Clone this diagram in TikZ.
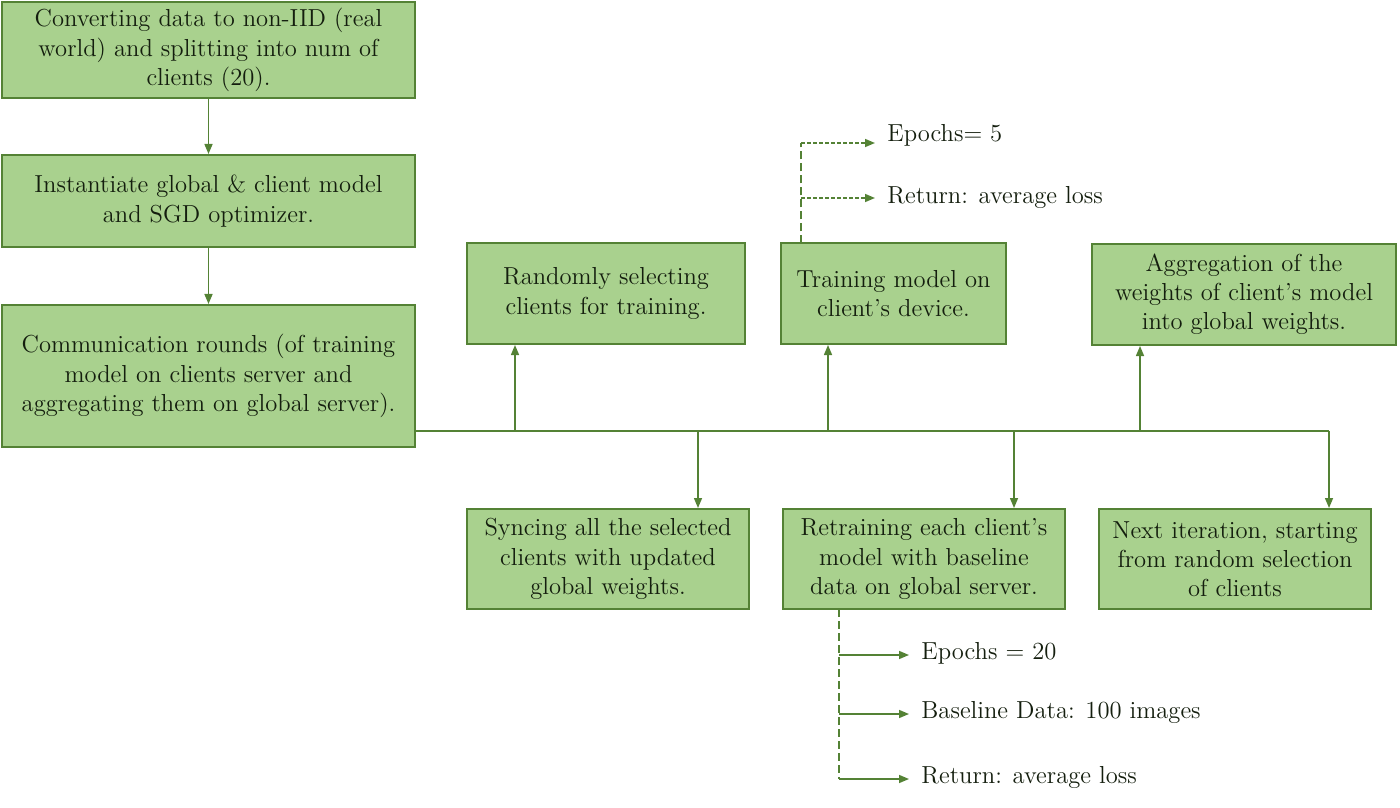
\documentclass[tikz,border=0pt]{standalone}
\usetikzlibrary{arrows.meta}
\definecolor{boxfill}{HTML}{A9D18E}
\definecolor{boxline}{HTML}{548235}
\definecolor{txt}{HTML}{141E0E}
\begin{document}
\begin{tikzpicture}[x=0.5pt,y=-0.5pt,
  box/.style={draw=boxline,fill=boxfill,line width=1pt,align=center,inner sep=0pt,
    text=txt,font=\fontsize{12.3}{14.6}\selectfont},
  arr/.style={draw=boxline,line width=0.75pt,-{Triangle[length=5pt,width=4pt]}},
  ln/.style={draw=boxline,line width=0.75pt},
  dsh/.style={draw=boxline,line width=0.75pt,dash pattern=on 4pt off 2pt},
  lbl/.style={anchor=west,inner sep=0pt,text=txt,font=\fontsize{12.3}{14.6}\selectfont}]
\useasboundingbox (0,0) rectangle (1400,807);
% boxes
\node[box,minimum width=206.5pt,minimum height=48pt] (A) at (208.5,50)
  {Converting data to non-IID (real\\world) and splitting into num of\\clients (20).};
\node[box,minimum width=206.5pt,minimum height=46pt] (B) at (208.5,201)
  {Instantiate global \& client model\\and SGD optimizer.};
\node[box,minimum width=206.5pt,minimum height=71pt] (C) at (208.5,376)
  {Communication rounds (of training\\model on clients server and\\aggregating them on global server).};
\node[box,minimum width=139pt,minimum height=50.5pt] (D) at (606,293.5)
  {Randomly selecting\\clients for training.};
\node[box,minimum width=112.5pt,minimum height=50.5pt] (E) at (893.5,293.5)
  {Training model on\\client's device.};
\node[box,minimum width=152pt,minimum height=50.5pt] (F) at (1244,294.5)
  {Aggregation of the\\weights of client's model\\into global weights.};
\node[box,minimum width=141pt,minimum height=50pt] (G) at (608,559)
  {Syncing all the selected\\clients with updated\\global weights.};
\node[box,minimum width=141pt,minimum height=50pt] (H) at (924,559)
  {Retraining each client's\\model with baseline\\data on global server.};
\node[box,minimum width=136pt,minimum height=50pt] (I) at (1235,559)
  {Next iteration, starting\\from random selection\\of clients};
% vertical chain
\draw[arr] (A) -- (B);
\draw[arr] (B) -- (C);
% bus
\coordinate (bus0) at (415,431);
\coordinate (bus1) at (1329,431);
\draw[ln] (bus0) -- (bus1);
\coordinate (bD) at (515,431);
\coordinate (bE) at (828,431);
\coordinate (bF) at (1140,431);
\coordinate (bG) at (698,431);
\coordinate (bH) at (1014,431);
\draw[arr] (bD) -- (bD |- D.south);
\draw[arr] (bE) -- (bE |- E.south);
\draw[arr] (bF) -- (bF |- F.south);
\draw[arr] (bG) -- (bG |- G.north);
\draw[arr] (bH) -- (bH |- H.north);
\draw[arr] (bus1) -- (bus1 |- I.north);
% top labels
\node[lbl] (e5) at (887,135) {Epochs= 5};
\node[lbl] (r1) at (887,197) {Return: average loss};
\coordinate (t0) at (801,243.5);
\coordinate (t1) at (801,143);
\coordinate (t2) at (801,198);
\draw[dsh] (t0) -- (t1);
\draw[arr,dash pattern=on 2pt off 1pt] (t1) -- ([xshift=-6pt]t1 -| e5.west);
\draw[arr,dash pattern=on 2pt off 1pt] (t2) -- ([xshift=-6pt]t2 -| r1.west);
% bottom labels
\node[lbl] (e20) at (921,653) {Epochs = 20};
\node[lbl] (bd) at (921,712) {Baseline Data: 100 images};
\node[lbl] (r2) at (921,777) {Return: average loss};
\coordinate (s0) at (839,609);
\coordinate (s1) at (839,655);
\coordinate (s2) at (839,714);
\coordinate (s3) at (839,779);
\draw[dsh] (s0) -- (s3);
\draw[arr] (s1) -- ([xshift=-6pt]s1 -| e20.west);
\draw[arr] (s2) -- ([xshift=-6pt]s2 -| bd.west);
\draw[arr] (s3) -- ([xshift=-6pt]s3 -| r2.west);
\end{tikzpicture}
\end{document}
